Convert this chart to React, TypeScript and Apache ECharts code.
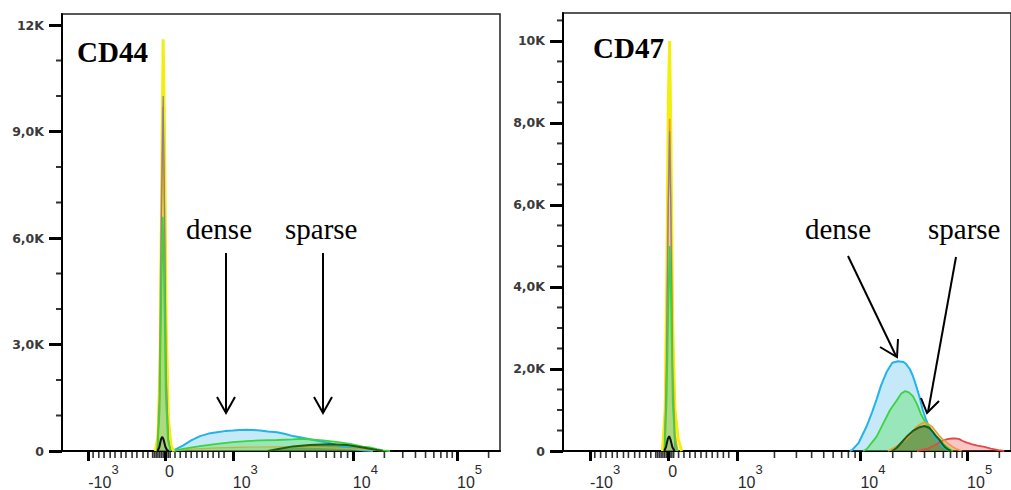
import React, { useEffect, useRef } from 'react';
import * as echarts from 'echarts';

// ---- axis ticks (x in display channels of the biexponential scale) ----
const xTickValues = [60, 235, 390, 664, 902];
const xTickBases = ['-10', '0', '10', '10', '10'];
const xTickExps = ['3', '', '3', '4', '5'];
const xMinorTicks = [
  71, 84, 96, 110, 121, 135, 146, 160, 171, 185, 196,
  207, 211, 215, 219, 223, 227, 231, 239, 243, 247,
  258, 270, 283, 295, 308, 320, 333, 345, 358, 370,
  472, 521, 555, 582, 603, 622, 637, 652,
  736, 778, 807, 830, 849, 865, 879, 891, 974,
];
const yTicksLeft = [0, 3000, 6000, 9000, 12000];
const yLabelsLeft = ['0', '3,0K', '6,0K', '9,0K', '12K'];
const yMinorLeft = [1000, 2000, 4000, 5000, 7000, 8000, 10000, 11000];
const yTicksRight = [0, 2000, 4000, 6000, 8000, 10000];
const yLabelsRight = ['0', '2,0K', '4,0K', '6,0K', '8,0K', '10K'];
const yMinorRight = [500, 1000, 1500, 2500, 3000, 3500, 4500, 5000, 5500, 6500, 7000, 7500, 8500, 9000, 9500, 10500];

// ---- CD44 panel histograms: [channel, count] ----
const cd44Yellow = [[213, 0], [219, 400], [224, 2500], [228, 8000], [231, 11600], [234, 9000], [238, 3500], [243, 900], [249, 150], [255, 0]];
const cd44Orange = [[217, 0], [222, 1500], [226, 6000], [230, 9700], [233, 7500], [237, 2500], [242, 400], [248, 0]];
const cd44Gray = [[218, 0], [223, 1500], [227, 6500], [231, 10000], [234, 7000], [238, 2000], [243, 300], [248, 0]];
const cd44Green0 = [[218, 0], [223, 1200], [227, 4500], [230, 6600], [233, 5000], [237, 1600], [242, 300], [248, 0]];
const cd44Black = [[218, 0], [222, 100], [226, 330], [229, 400], [232, 320], [236, 120], [240, 20], [244, 0]];
const cd44Dense = [[252, 0], [258, 40], [276, 150], [295, 300], [315, 420], [335, 490], [354, 530], [372, 560], [390, 575], [405, 590], [422, 600], [437, 590], [452, 575], [470, 550], [491, 530], [510, 480], [527, 420], [543, 390], [566, 330], [596, 260], [612, 220], [630, 160], [651, 100], [670, 50], [690, 15], [710, 0]];
const cd44Mid = [[255, 0], [290, 50], [354, 90], [422, 110], [491, 120], [566, 110], [630, 80], [687, 40], [733, 0]];
const cd44Light = [[255, 0], [276, 60], [315, 140], [354, 200], [390, 250], [422, 280], [452, 300], [491, 310], [527, 330], [543, 340], [566, 330], [596, 300], [630, 250], [658, 200], [687, 120], [703, 100], [719, 50], [733, 20], [749, 0]];
const cd44Sparse = [[470, 0], [491, 50], [527, 130], [566, 170], [612, 190], [651, 170], [687, 100], [719, 30], [733, 0]];

// ---- CD47 panel histograms ----
const cd47Yellow = [[222, 0], [228, 1000], [232, 4500], [235, 8500], [238, 10000], [241, 7500], [245, 3000], [250, 1000], [257, 300], [265, 0]];
const cd47Orange0 = [[226, 0], [230, 1500], [234, 5500], [238, 8100], [241, 6000], [245, 2000], [250, 400], [256, 0]];
const cd47Gray = [[227, 0], [231, 2000], [235, 6000], [238, 7800], [241, 5500], [245, 1500], [250, 0]];
const cd47Green0 = [[227, 0], [231, 1200], [235, 3500], [238, 5000], [241, 3800], [245, 1200], [250, 200], [255, 0]];
const cd47Black = [[226, 0], [230, 100], [234, 300], [237, 360], [240, 280], [244, 100], [249, 0]];
const cd47Dense = [[640, 0], [645, 20], [660, 200], [678, 610], [690, 950], [700, 1260], [710, 1600], [722, 1920], [735, 2150], [748, 2190], [760, 2170], [766, 2120], [774, 2000], [781, 1830], [788, 1600], [796, 1310], [803, 1000], [810, 780], [818, 560], [825, 420], [832, 300], [840, 200], [847, 110], [853, 60], [862, 0]];
const cd47Red = [[790, 0], [815, 60], [830, 140], [840, 210], [847, 250], [858, 290], [868, 305], [875, 310], [885, 290], [891, 250], [900, 210], [912, 170], [925, 130], [941, 100], [955, 60], [972, 20], [985, 0]];
const cd47Light = [[670, 0], [678, 50], [700, 350], [716, 700], [730, 1000], [744, 1220], [755, 1400], [764, 1460], [772, 1430], [781, 1340], [790, 1150], [799, 900], [808, 720], [818, 580], [828, 430], [840, 290], [850, 160], [862, 50], [870, 0]];
const cd47Orange = [[725, 0], [731, 30], [750, 150], [766, 290], [778, 430], [788, 580], [800, 670], [807, 700], [815, 660], [825, 580], [832, 480], [840, 370], [847, 290], [853, 240], [860, 180], [870, 100], [880, 40], [890, 0]];
const cd47Sparse = [[735, 0], [745, 80], [759, 250], [770, 380], [781, 490], [796, 580], [807, 610], [818, 560], [825, 470], [832, 370], [840, 270], [847, 170], [853, 90], [860, 30], [866, 0]];

const C = {
  yellow: ['#f2ee10', 'rgba(250,245,60,0.35)', 3],
  orange: ['#ee9a3a', 'rgba(240,150,60,0.45)', 1.6],
  gray: ['#8c7f9c', 'rgba(150,140,170,0.2)', 1.2],
  green: ['#3bd43b', 'rgba(70,225,70,0.5)', 1.8],
  black: ['#111111', 'rgba(0,0,0,0.1)', 2],
  cyan: ['#22b4e8', 'rgba(70,185,235,0.45)', 2],
  red: ['#e24a4a', 'rgba(238,90,90,0.5)', 1.8],
  dark: ['#1f5e10', 'rgba(45,115,25,0.7)', 2],
  olive: ['#c8b040', 'rgba(215,175,60,0.45)', 1.2],
};

function mk(data: number[][], key: keyof typeof C, idx: number) {
  const [line, fill, w] = C[key] as [string, string, number];
  return {
    type: 'line',
    xAxisIndex: idx,
    yAxisIndex: idx,
    data,
    symbol: 'none',
    showSymbol: false,
    smooth: false,
    lineStyle: { color: line, width: w },
    areaStyle: { color: fill, origin: 'start' },
    itemStyle: { color: line },
  };
}

// minor tick marks: rect symbols positioned by the axes' own scales
function minorTicks(idx: number, values: number[], dir: 'x' | 'y', len: number, width: number) {
  return {
    type: 'scatter',
    xAxisIndex: idx,
    yAxisIndex: idx,
    clip: false,
    symbol: 'rect',
    symbolSize: dir === 'x' ? [width, len] : [len, width],
    symbolOffset: dir === 'x' ? [0, len / 2 + 1] : [-len / 2 - 1, 0],
    itemStyle: { color: '#000000' },
    data: values.map((v) => (dir === 'x' ? [v, 0] : [0, v])),
  };
}

const xLabelFormatter = (v: number) => {
  const i = xTickValues.indexOf(v);
  if (i < 0) return '';
  const e = xTickExps[i];
  return e ? `{b|${xTickBases[i]}}{s|${e}}` : `{b|${xTickBases[i]}}`;
};

function xAxis(gridIndex: number) {
  return {
    type: 'value', gridIndex, position: 'bottom', min: 0, max: 1000,
    axisLine: { show: true, onZero: false, lineStyle: { color: '#000', width: 2 } },
    axisTick: { show: true, customValues: xTickValues, length: 10, lineStyle: { color: '#000', width: 3 } },
    axisLabel: {
      show: true, customValues: xTickValues, formatter: xLabelFormatter, align: 'left', margin: 12,
      rich: {
        b: { fontFamily: 'Liberation Sans', fontSize: 16, color: '#2a2a2a', verticalAlign: 'bottom' },
        s: { fontFamily: 'Liberation Sans', fontSize: 13, color: '#2a2a2a', verticalAlign: 'bottom', padding: [0, 0, 14, 0] },
      },
    },
    splitLine: { show: false },
  };
}

function yAxis(gridIndex: number, max: number, tv: number[], labels: string[]) {
  return {
    type: 'value', gridIndex, position: 'left', min: 0, max,
    axisLine: { show: true, onZero: false, lineStyle: { color: '#000', width: 2 } },
    axisTick: { show: true, customValues: tv, length: 13, lineStyle: { color: '#000', width: 3 } },
    axisLabel: {
      show: true, customValues: tv, margin: 18,
      formatter: (v: number) => { const i = tv.indexOf(v); return i < 0 ? '' : labels[i]; },
      fontFamily: 'DejaVu Sans', fontWeight: 'bold', fontSize: 12.5, color: '#3a3a3a',
    },
    splitLine: { show: false },
  };
}

const serif = '"Liberation Serif", "Times New Roman", serif';

function txt(text: string, x: number, y: number, bold = false) {
  return {
    type: 'text', x, y, z: 100,
    style: { text, fill: '#000', font: `${bold ? 'bold ' : ''}29px ${serif}`, align: 'left', verticalAlign: 'middle' },
  };
}
function seg(x1: number, y1: number, x2: number, y2: number) {
  return { type: 'line', z: 100, shape: { x1, y1, x2, y2 }, style: { stroke: '#000', lineWidth: 2 } };
}
function head(points: number[][]) {
  return { type: 'polyline', z: 100, shape: { points }, style: { stroke: '#000', lineWidth: 2, fill: 'none' } };
}

export default function App() {
  const ref = useRef<HTMLDivElement>(null);
  useEffect(() => {
    if (!ref.current) return;
    const chart = echarts.init(ref.current, undefined, { renderer: 'svg' });
    chart.setOption({
      animation: false,
      backgroundColor: '#fff',
      grid: [
        { left: 62, top: 14, width: 438, height: 438, show: true, borderColor: '#222', borderWidth: 1.5 },
        { left: 563, top: 13, width: 457, height: 439, show: true, borderColor: '#222', borderWidth: 1.5 },
      ],
      xAxis: [xAxis(0), xAxis(1)],
      yAxis: [
        yAxis(0, 12310, yTicksLeft, yLabelsLeft),
        yAxis(1, 10681, yTicksRight, yLabelsRight),
      ],
      series: [
        mk(cd44Dense, 'cyan', 0),
        mk(cd44Mid, 'olive', 0),
        mk(cd44Light, 'green', 0),
        mk(cd44Sparse, 'dark', 0),
        mk(cd44Yellow, 'yellow', 0),
        mk(cd44Orange, 'orange', 0),
        mk(cd44Gray, 'gray', 0),
        mk(cd44Green0, 'green', 0),
        mk(cd44Black, 'black', 0),
        mk(cd47Dense, 'cyan', 1),
        mk(cd47Red, 'red', 1),
        mk(cd47Light, 'green', 1),
        mk(cd47Orange, 'orange', 1),
        mk(cd47Sparse, 'dark', 1),
        mk(cd47Yellow, 'yellow', 1),
        mk(cd47Orange0, 'orange', 1),
        mk(cd47Gray, 'gray', 1),
        mk(cd47Green0, 'green', 1),
        mk(cd47Black, 'black', 1),
        minorTicks(0, xMinorTicks, 'x', 6, 1.6),
        minorTicks(0, yMinorLeft, 'y', 5, 2),
        minorTicks(1, xMinorTicks, 'x', 6, 1.6),
        minorTicks(1, yMinorRight, 'y', 5, 2),
      ],
      graphic: [
        txt('CD44', 77, 52, true),
        txt('CD47', 593, 48, true),
        txt('dense', 186, 229),
        txt('sparse', 285, 229),
        txt('dense', 805, 229),
        txt('sparse', 928, 229),
        seg(226, 253, 226, 412), head([[217, 397], [226, 413], [235, 397]]),
        seg(323, 253, 323, 412), head([[314, 397], [323, 413], [332, 397]]),
        seg(848, 256, 896, 356), head([[880, 347], [897, 357], [898, 339]]),
        seg(956, 257, 928, 412), head([[921, 398], [927, 413], [939, 401]]),
      ],
    });
    return () => chart.dispose();
  }, []);
  return <div ref={ref} style={{ position: 'fixed', left: 0, top: 0, width: 1011, height: 490 }} />;
}
